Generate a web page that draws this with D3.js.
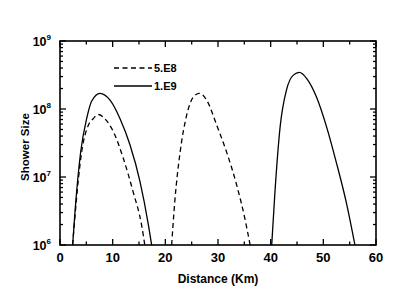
<!DOCTYPE html>
<html>
<head>
<meta charset="utf-8">
<script src="https://cdn.jsdelivr.net/npm/d3@7"></script>
<style>
  body { margin: 0; background: #fff; }
  svg text { font-family: "Liberation Sans", Arial, sans-serif; font-weight: bold; fill: #000; }
</style>
</head>
<body>
<div id="chart"></div>
<script>
// shower size vs distance
var dist5a = [2.4, 2.9, 4.1, 5.4, 6.3, 7.3, 8.5, 10.1, 12.0, 13.9, 15.5, 16.1];
var size5a = [1e6, 3.0e6, 2.3e7, 5.8e7, 7.2e7, 8.3e7, 7.2e7, 4.7e7, 1.9e7, 6.0e6, 1.95e6, 1e6];
var dist5b = [21.2, 21.8, 22.8, 24.05, 25.3, 26.45, 27.85, 29.75, 31.65, 33.55, 35.1, 36.1];
var size5b = [1e6, 4.4e6, 2.3e7, 8.1e7, 1.5e8, 1.7e8, 1.35e8, 5.8e7, 2.3e7, 7.6e6, 2.45e6, 1e6];
var dist1a = [2.4, 2.85, 3.93, 5.06, 6.0, 7.6, 9.5, 11.4, 13.3, 15.2, 16.8, 17.4];
var size1a = [1e6, 3.1e6, 2.35e7, 7.2e7, 1.3e8, 1.7e8, 1.35e8, 7.2e7, 2.95e7, 8.5e6, 1.95e6, 1e6];
var dist1b = [40.2, 40.8, 41.8, 43.0, 44.3, 45.45, 46.85, 48.7, 50.6, 52.5, 54.4, 56.0];
var size1b = [1e6, 5.8e6, 5.5e7, 1.9e8, 3.15e8, 3.45e8, 2.8e8, 1.5e8, 5.5e7, 1.6e7, 4.1e6, 1e6];

var xTicks = [0, 10, 20, 30, 40, 50, 60];
var yTicks = [1e6, 1e7, 1e8, 1e9];
var legendLabels = ["5.E8", "1.E9"];

var W = 415, H = 290;
var margin = {top: 41, right: 39, bottom: 45, left: 60};
var width = W - margin.left - margin.right;
var height = H - margin.top - margin.bottom;

var svg = d3.select("#chart").append("svg")
  .attr("width", W).attr("height", H);
var g = svg.append("g")
  .attr("transform", "translate(" + margin.left + "," + margin.top + ")");

var x = d3.scaleLinear().domain([0, 60]).range([0, width]);
var y = d3.scaleLog().domain([1e6, 1e9]).range([height, 0]);

// ticks (inward, all four sides)
var xMinor = d3.range(0, 61, 5);
var yMinor = [];
[1e6, 1e7, 1e8].forEach(function(d) {
  for (var k = 2; k <= 9; k++) yMinor.push(d * k);
});

var tk = g.append("g").attr("stroke", "#000").attr("stroke-width", 1.3);
xMinor.forEach(function(d) {
  var len = (d % 10 === 0) ? 6 : 3.5;
  tk.append("line").attr("x1", x(d)).attr("x2", x(d)).attr("y1", height).attr("y2", height - len);
  tk.append("line").attr("x1", x(d)).attr("x2", x(d)).attr("y1", 0).attr("y2", len);
});
yTicks.concat(yMinor).forEach(function(d) {
  var len = yTicks.indexOf(d) >= 0 ? 6 : 3;
  tk.append("line").attr("y1", y(d)).attr("y2", y(d)).attr("x1", 0).attr("x2", len);
  tk.append("line").attr("y1", y(d)).attr("y2", y(d)).attr("x1", width).attr("x2", width - len);
});

g.append("rect").attr("width", width).attr("height", height)
  .attr("fill", "none").attr("stroke", "#000").attr("stroke-width", 1.6);

// tick labels
g.selectAll(".xl").data(xTicks).enter().append("text")
  .attr("x", function(d) { return x(d); })
  .attr("y", height + 17)
  .attr("text-anchor", "middle")
  .style("font-size", "13px")
  .text(function(d) { return d; });

var yl = g.selectAll(".yl").data(yTicks).enter().append("text")
  .attr("x", -9)
  .attr("y", function(d) { return y(d) + 5; })
  .attr("text-anchor", "end")
  .style("font-size", "12.5px");
yl.append("tspan").text("10");
yl.append("tspan").attr("dy", -6).style("font-size", "8px")
  .text(function(d) { return Math.round(Math.log10(d)); });

// axis titles
g.append("text")
  .attr("x", width / 2).attr("y", height + 38)
  .attr("text-anchor", "middle").style("font-size", "12px")
  .text("Distance (Km)");
g.append("text")
  .attr("transform", "translate(-31," + (height / 2 + 4) + ") rotate(-90)")
  .attr("text-anchor", "middle").style("font-size", "11.5px")
  .text("Shower Size");

// curves
var line = d3.line()
  .x(function(d) { return x(d[0]); })
  .y(function(d) { return y(d[1]); })
  .curve(d3.curveMonotoneX);

function curve(xs, ys, dashed) {
  g.append("path")
    .datum(d3.zip(xs, ys))
    .attr("d", line)
    .attr("fill", "none")
    .attr("stroke", "#000")
    .attr("stroke-width", 1.3)
    .attr("stroke-dasharray", dashed ? "5,3.5" : null);
}
curve(dist5a, size5a, true);
curve(dist5b, size5b, true);
curve(dist1a, size1a, false);
curve(dist1b, size1b, false);

// legend
var leg = g.append("g").attr("transform", "translate(54,27)");
legendLabels.forEach(function(lab, i) {
  leg.append("line")
    .attr("x1", 0).attr("x2", 38)
    .attr("y1", i * 18).attr("y2", i * 18)
    .attr("stroke", "#000").attr("stroke-width", 1.3)
    .attr("stroke-dasharray", i === 0 ? "5,3.5" : null);
  leg.append("text")
    .attr("x", 40).attr("y", i * 18 + 4)
    .style("font-size", "11px")
    .text(lab);
});
</script>
</body>
</html>
